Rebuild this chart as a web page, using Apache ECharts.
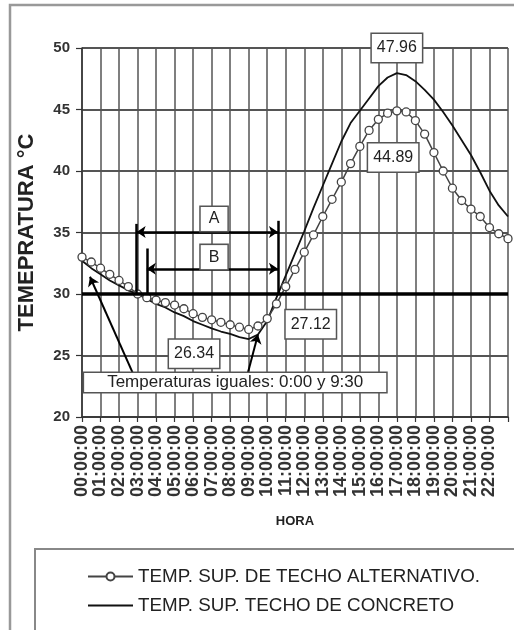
<!DOCTYPE html>
<html>
<head>
<meta charset="utf-8">
<script src="https://cdn.jsdelivr.net/npm/echarts@6/dist/echarts.min.js"></script>
<style>
html,body{margin:0;padding:0;background:#fff;}
#c{width:514px;height:630px;}
</style>
</head>
<body>
<div id="c"></div>
<script>
// ---- data (half-hourly readings, 00:00 .. 23:00) ----
const times = ['00:00','00:30','01:00','01:30','02:00','02:30','03:00','03:30','04:00','04:30',
  '05:00','05:30','06:00','06:30','07:00','07:30','08:00','08:30','09:00','09:30',
  '10:00','10:30','11:00','11:30','12:00','12:30','13:00','13:30','14:00','14:30',
  '15:00','15:30','16:00','16:30','17:00','17:30','18:00','18:30','19:00','19:30',
  '20:00','20:30','21:00','21:30','22:00','22:30','23:00'];

const techoAlternativo = [33.0,32.6,32.1,31.6,31.1,30.6,30.0,29.7,29.5,29.3,
  29.1,28.8,28.4,28.1,27.9,27.7,27.5,27.3,27.12,27.4,
  28.0,29.2,30.6,32.0,33.4,34.8,36.3,37.7,39.1,40.6,
  42.0,43.3,44.2,44.7,44.89,44.8,44.1,43.0,41.5,40.0,
  38.6,37.6,36.9,36.3,35.4,34.9,34.5];

const techoConcreto = [32.7,32.1,31.6,31.1,30.7,30.3,30.0,29.6,29.2,28.9,
  28.5,28.2,27.8,27.5,27.2,26.95,26.75,26.5,26.34,26.7,
  27.8,29.7,31.5,33.3,35.1,37.0,38.8,40.6,42.4,43.9,
  44.9,45.9,46.9,47.6,47.96,47.8,47.3,46.6,45.8,44.8,
  43.7,42.5,41.3,39.9,38.4,37.2,36.3];

const hourLabels = ['00:00:00','01:00:00','02:00:00','03:00:00','04:00:00','05:00:00',
  '06:00:00','07:00:00','08:00:00','09:00:00','10:00:00','11:00:00','12:00:00',
  '13:00:00','14:00:00','15:00:00','16:00:00','17:00:00','18:00:00','19:00:00',
  '20:00:00','21:00:00','22:00:00'];

const seriesNames = ['TEMP. SUP. DE TECHO ALTERNATIVO.', 'TEMP. SUP. TECHO DE CONCRETO'];
const yTicks = [20, 25, 30, 35, 40, 45, 50];

// ---- annotations (data coordinates: hour, °C) ----
const notes = [
  {text: '47.96', at: [17.0, 50.0]},
  {text: '44.89', at: [16.8, 41.1]},
  {text: '26.34', at: [6.05, 25.15]},
  {text: '27.12', at: [12.35, 27.55]},
  {text: 'A', at: [7.13, 36.1]},
  {text: 'B', at: [7.13, 33.0]}
];
const noteWide = {text: 'Temperaturas iguales: 0:00 y 9:30', at: [8.27, 22.8]};

const FONT = "'Liberation Sans', Arial, sans-serif";
const hours = times.map(t => { const p = t.split(':'); return +p[0] + (+p[1]) / 60; });

const chart = echarts.init(document.getElementById('c'), null, {renderer: 'canvas'});

const boxLabel = (fs, pad) => ({
  show: true, position: 'inside', formatter: '{b}', fontFamily: FONT, fontSize: fs,
  color: '#222', backgroundColor: '#fff', borderColor: '#555', borderWidth: 1.5, padding: pad
});

const markPoints = notes.map(n => ({
  name: n.text, coord: n.at,
  label: n.text.length === 1 ? boxLabel(16, [4, 8]) : boxLabel(16, [6, 5])
}));
markPoints.push({name: noteWide.text, coord: noteWide.at, label: boxLabel(17, [1, 23])});

// plain line legend icon (tiny corner specks keep the bar centred and thin)
const lineIcon = 'path://M0,0 L0.01,0 L0.01,0.01 Z M0,4.1 L45,4.1 L45,5.9 L0,5.9 Z M44.99,9.99 L45,9.99 L45,10 Z';

chart.setOption({
  animation: false,
  backgroundColor: '#fff',
  textStyle: {fontFamily: FONT},
  graphic: [
    {type: 'rect', shape: {x: 10, y: 5, width: 560, height: 680}, style: {fill: 'none', stroke: '#999', lineWidth: 2.5}, silent: true, z: -10},
    {type: 'rect', shape: {x: 35, y: 549, width: 540, height: 120}, style: {fill: 'none', stroke: '#888', lineWidth: 2}, silent: true, z: -10}
  ],
  grid: {left: 82, right: 6, top: 48, bottom: 213, containLabel: false, outerBoundsMode: 'none'},
  legend: {
    orient: 'vertical', left: 82, top: 562, itemWidth: 45, itemHeight: 10, itemGap: 10,
    data: [{name: seriesNames[0]}, {name: seriesNames[1], icon: lineIcon}],
    textStyle: {fontFamily: FONT, fontSize: 18.8, color: '#222'}
  },
  xAxis: {
    type: 'value', min: 0, max: 23, interval: 1,
    name: 'HORA', nameLocation: 'middle', nameGap: 98,
    nameTextStyle: {fontFamily: FONT, fontSize: 13, fontWeight: 'bold', color: '#222'},
    axisLine: {show: true, lineStyle: {color: '#333', width: 1.5}},
    axisTick: {show: true, length: 5, lineStyle: {color: '#333', width: 1.2}},
    axisLabel: {rotate: 90, margin: 8, fontFamily: FONT, fontSize: 18, fontWeight: 'bold', color: '#333',
      formatter: v => hourLabels[v] || ''},
    splitLine: {show: true, lineStyle: {color: '#555', width: 1.5}}
  },
  yAxis: {
    type: 'value', min: yTicks[0], max: yTicks[yTicks.length - 1], interval: 5,
    name: 'TEMEPRATURA °C', nameLocation: 'middle', nameGap: 44,
    nameTextStyle: {fontFamily: FONT, fontSize: 22, fontWeight: 'bold', color: '#222'},
    axisLine: {show: true, lineStyle: {color: '#333', width: 1.5}},
    axisTick: {show: true, length: 6, lineStyle: {color: '#333', width: 1.2}},
    axisLabel: {margin: 12, fontFamily: FONT, fontSize: 15, fontWeight: 'bold', color: '#333'},
    splitLine: {show: true, lineStyle: {color: '#555', width: 2}}
  },
  series: [
    {
      name: seriesNames[0], type: 'line',
      data: hours.map((h, i) => [h, techoAlternativo[i]]),
      symbol: 'circle', symbolSize: 8, showSymbol: true,
      lineStyle: {color: '#444', width: 1.5},
      itemStyle: {color: '#fff', borderColor: '#444', borderWidth: 1.3},
      z: 4
    },
    {
      name: seriesNames[1], type: 'line', clip: false,
      data: hours.map((h, i) => [h, techoConcreto[i]]),
      symbol: 'none',
      lineStyle: {color: '#111', width: 1.8},
      itemStyle: {color: '#111'},
      z: 3,
      markLine: {
        silent: true, animation: false, symbol: ['none', 'none'], symbolSize: 9,
        label: {show: false},
        lineStyle: {color: '#000', width: 2.5, type: 'solid'},
        data: [
          {yAxis: 30, lineStyle: {color: '#000', width: 3.5}},
          [{coord: [2.95, 30]}, {coord: [2.95, 35.7]}],
          [{coord: [3.5, 30]}, {coord: [3.5, 33.7]}],
          [{coord: [10.58, 30]}, {coord: [10.58, 35.95]}],
          [{coord: [2.95, 35.05], symbol: 'arrow'}, {coord: [10.58, 35.05], symbol: 'arrow'}],
          [{coord: [3.5, 32.05], symbol: 'arrow'}, {coord: [10.58, 32.05], symbol: 'arrow'}],
          [{coord: [2.75, 23.55], lineStyle: {width: 2}}, {coord: [0.43, 31.4], symbol: 'arrow'}],
          [{coord: [8.95, 23.55], lineStyle: {width: 2}}, {coord: [9.5, 26.7], symbol: 'arrow'}]
        ]
      },
      markPoint: {
        silent: true, animation: false, symbol: 'rect', symbolSize: 0,
        itemStyle: {color: 'transparent'},
        data: markPoints
      }
    }
  ]
});
</script>
</body>
</html>
